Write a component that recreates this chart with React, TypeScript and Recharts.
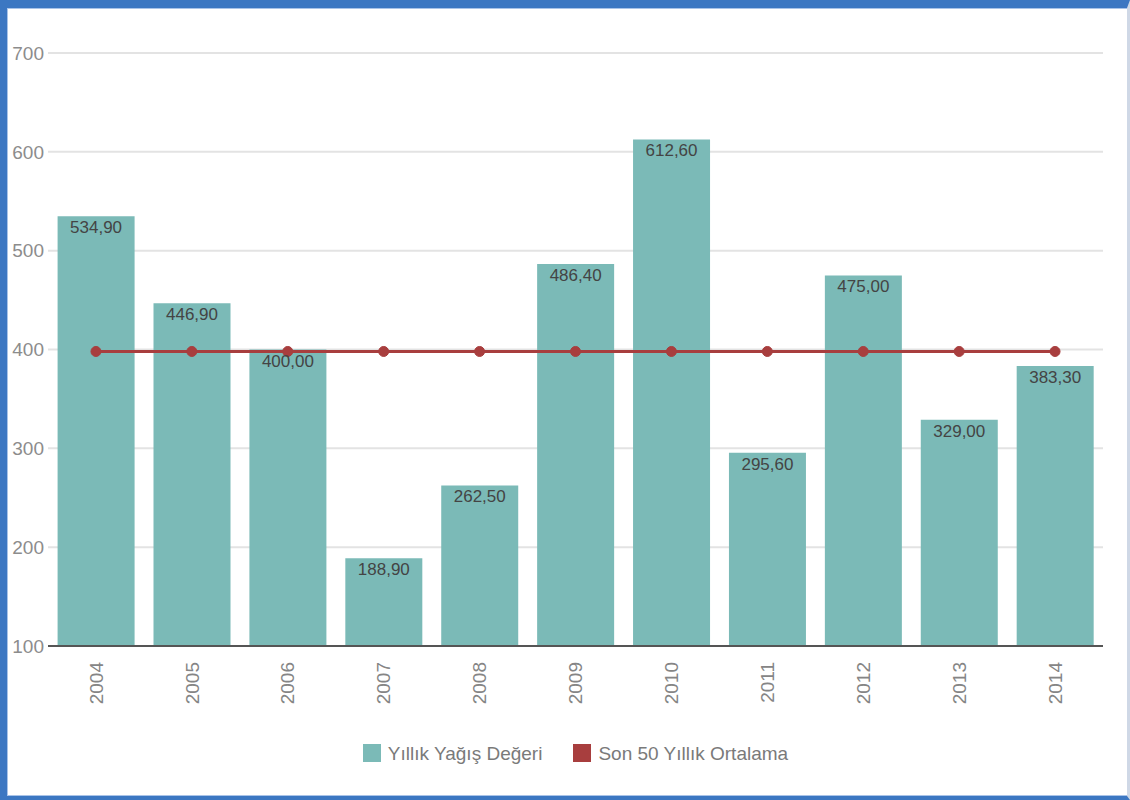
import React from 'react';
import { ComposedChart, Bar, Line, XAxis, YAxis, CartesianGrid, Legend, LabelList } from 'recharts';

const years = ['2004', '2005', '2006', '2007', '2008', '2009', '2010', '2011', '2012', '2013', '2014'];
const rainfall = [534.9, 446.9, 400.0, 188.9, 262.5, 486.4, 612.6, 295.6, 475.0, 329.0, 383.3];
const average = [398, 398, 398, 398, 398, 398, 398, 398, 398, 398, 398];
const yTicks = [100, 200, 300, 400, 500, 600, 700];
const barName = 'Yıllık Yağış Değeri';
const lineName = 'Son 50 Yıllık Ortalama';
const legendOrder = ['rain', 'avg'];

const data = years.map((y, i) => ({ year: y, rain: rainfall[i], avg: average[i] }));

const FONT = '"Liberation Sans", Arial, sans-serif';
const BAR_COLOR = '#7bbab7';
const LINE_COLOR = '#a83e3e';

const fmt = (v: any) => Number(v).toFixed(2).replace('.', ',');

const XTick = (props: any) => {
  const { x, y, payload } = props;
  return (
    <text
      x={x}
      y={y}
      transform={`rotate(-90, ${x}, ${y})`}
      textAnchor="end"
      dy="0.35em"
      fill="#858585"
      fontSize={19}
      fontFamily={FONT}
    >
      {payload.value}
    </text>
  );
};

const LegendContent = (props: any) => {
  const items = [...(props.payload || [])].sort(
    (a: any, b: any) => legendOrder.indexOf(a.dataKey) - legendOrder.indexOf(b.dataKey)
  );
  return (
    <div style={{ display: 'flex', justifyContent: 'center', alignItems: 'center', height: 30, fontFamily: FONT }}>
      {items.map((p: any, i: number) => (
        <div key={i} style={{ display: 'flex', alignItems: 'center', marginLeft: i === 0 ? 0 : 31 }}>
          <div style={{ width: 18, height: 18, background: p.color, marginRight: 7 }} />
          <span style={{ color: '#7a7a7a', fontSize: 19, lineHeight: '19px' }}>{p.value}</span>
        </div>
      ))}
    </div>
  );
};

export default function App() {
  return (
    <div style={{ position: 'absolute', left: 0, top: 0, width: 1130, height: 800, background: '#fff' }}>
      <div
        style={{
          position: 'absolute',
          left: 0,
          top: 0,
          width: 1130,
          height: 800,
          boxSizing: 'border-box',
          borderTop: '8px solid #3c77c2',
          borderLeft: '7px solid #3c77c2',
          borderBottom: '4px solid #3c77c2',
          borderRight: '3px solid #cfd8e6',
        }}
      >
        <div style={{ width: '100%', height: '100%', boxSizing: 'border-box', borderTop: '1px solid #a9c3e8', borderLeft: '1px solid #a9c3e8', borderBottom: '1px solid #a9c3e8' }} />
      </div>
      <div style={{ position: 'absolute', left: 0, top: 0 }}>
        <ComposedChart
          width={1130}
          height={800}
          data={data}
          margin={{ top: 53, right: 27, bottom: 32, left: 0 }}
          barCategoryGap="10%"
        >
          <CartesianGrid vertical={false} stroke="#e3e3e3" strokeWidth={2} />
          <XAxis
            dataKey="year"
            height={92}
            tickLine={false}
            tickSize={0}
            tickMargin={16}
            axisLine={{ stroke: '#555', strokeWidth: 2 }}
            tick={<XTick />}
            interval={0}
          />
          <YAxis
            width={48}
            domain={[100, 700]}
            ticks={yTicks}
            axisLine={false}
            tickLine={false}
            tickSize={0}
            tickMargin={4}
            tick={{ fill: '#8c8c8c', fontSize: 19, fontFamily: FONT }}
            allowDataOverflow
          />
          <Legend verticalAlign="bottom" wrapperStyle={{ left: 48, width: 1055 }} content={<LegendContent />} />
          <Bar dataKey="rain" name={barName} fill={BAR_COLOR} isAnimationActive={false}>
            <LabelList
              dataKey="rain"
              position="insideTop"
              formatter={fmt}
              fill="#444"
              fontSize={17}
              fontFamily={FONT}
            />
          </Bar>
          <Line
            dataKey="avg"
            name={lineName}
            type="linear"
            stroke={LINE_COLOR}
            strokeWidth={3}
            dot={{ r: 5, fill: LINE_COLOR, stroke: LINE_COLOR, strokeWidth: 1 }}
            activeDot={false}
            isAnimationActive={false}
          />
        </ComposedChart>
      </div>
    </div>
  );
}
